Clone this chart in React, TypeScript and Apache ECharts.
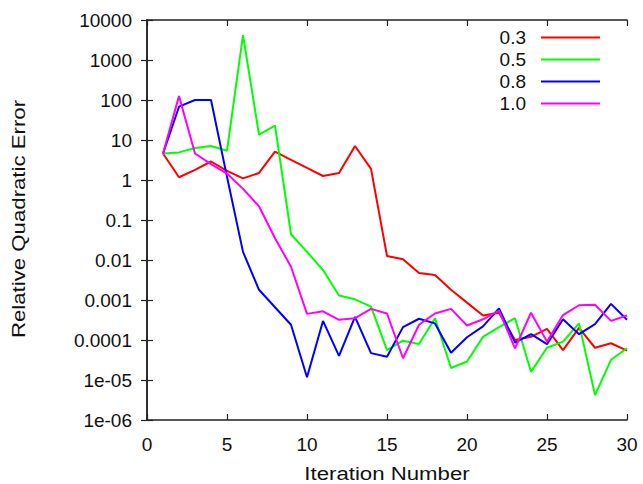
import React, { useEffect, useRef } from "react";
import * as echarts from "echarts";

const iterations = Array.from({ length: 30 }, (_, i) => i + 1);
const seriesNames = ["0.3", "0.5", "0.8", "1.0"];
const seriesColors = ["#ff0000", "#00ff00", "#0000ff", "#ff00ff"];

const err03 = [4.6, 1.17, 1.8, 2.9, 1.7, 1.1, 1.5, 5.1, 3.2, 2.0, 1.26, 1.5, 7.1, 1.9, 0.0126, 0.0104, 0.0047, 0.0042, 0.0018, 0.00086, 0.00041, 0.00048, 0.0001, 0.00012, 0.00019, 5.6e-5, 0.0002, 6.4e-5, 8.3e-5, 5.4e-5];
const err05 = [4.6, 4.9, 6.3, 7.1, 5.4, 4200, 13.6, 22.8, 0.044, 0.016, 0.0056, 0.0013, 0.00104, 0.00068, 5.6e-5, 9.6e-5, 7.9e-5, 0.00035, 2e-5, 2.9e-5, 0.00012, 0.00021, 0.00035, 1.6e-5, 6.4e-5, 9.1e-5, 0.00026, 4.2e-6, 3.2e-5, 6.2e-5];
const err08 = [4.6, 68, 100, 100, 1.2, 0.016, 0.0018, 0.00066, 0.00024, 1.17e-5, 0.0003, 4e-5, 0.00038, 4.7e-5, 3.8e-5, 0.00021, 0.00034, 0.00026, 4.8e-5, 0.000117, 0.00022, 0.00062, 8.6e-5, 0.00014, 7.9e-5, 0.00033, 0.00014, 0.00025, 0.0008, 0.00032];
const err10 = [4.6, 125, 4.6, 2.5, 1.45, 0.6, 0.22, 0.035, 0.0068, 0.00045, 0.00052, 0.00032, 0.00035, 0.0006, 0.00046, 3.5e-5, 0.00024, 0.00046, 0.0006, 0.00023, 0.00033, 0.00054, 6.2e-5, 0.00048, 9.1e-5, 0.00042, 0.00074, 0.00076, 0.0003, 0.00041];

const allSeries = [err03, err05, err08, err10];

const xLabel = "Iteration Number";
const yLabel = "Relative Quadratic Error";

const FONT = "'Liberation Sans', Arial, Helvetica, sans-serif";
const TEXT = "#111";
const FS = 19;

function logLabel(v: number): string {
  const e = Math.round(Math.log10(v));
  if (e >= 0) return String(Math.pow(10, e));
  if (e >= -4) return "0." + "0".repeat(-e - 1) + "1";
  return "1e-" + String(-e).padStart(2, "0");
}

export default function App() {
  const ref = useRef<HTMLDivElement>(null);
  useEffect(() => {
    if (!ref.current) return;
    const chart = echarts.init(ref.current, null, { renderer: "svg" });
    const axisLine = { show: true, lineStyle: { color: "#222", width: 1.5 } };
    const tick = { show: true, inside: true, length: 6, lineStyle: { color: "#222", width: 1.2 } };
    chart.setOption({
      animation: false,
      backgroundColor: "#fff",
      textStyle: { fontFamily: FONT },
      grid: { left: 147, right: 16, top: 20, bottom: 64, show: false },
      legend: {
        orient: "vertical",
        right: 38,
        top: 23,
        align: "right",
        itemWidth: 59,
        itemHeight: 2,
        itemGap: 3,
        icon: "rect",
        textStyle: { fontSize: FS, color: TEXT, fontFamily: FONT, padding: [0, 10, 0, 0] },
        data: seriesNames,
      },
      xAxis: [
        {
          type: "value",
          min: 0,
          max: 30,
          interval: 5,
          axisLine,
          axisTick: tick,
          axisLabel: { fontSize: FS, color: TEXT, margin: 15, fontFamily: FONT },
          splitLine: { show: false },
        },
        {
          type: "value",
          position: "top",
          min: 0,
          max: 30,
          interval: 5,
          axisLine,
          axisTick: tick,
          axisLabel: { show: false },
          splitLine: { show: false },
        },
      ],
      yAxis: [
        {
          type: "log",
          logBase: 10,
          min: 1e-6,
          max: 1e4,
          interval: 1,
          axisLine,
          axisTick: tick,
          minorTick: { show: false },
          axisLabel: { fontSize: FS, color: TEXT, margin: 15, fontFamily: FONT, formatter: (v: number) => logLabel(v) },
          splitLine: { show: false },
        },
        {
          type: "log",
          logBase: 10,
          position: "right",
          min: 1e-6,
          max: 1e4,
          interval: 1,
          axisLine,
          axisTick: tick,
          axisLabel: { show: false },
          splitLine: { show: false },
        },
      ],
      graphic: [
        {
          type: "text",
          x: 18,
          y: 219,
          rotation: Math.PI / 2,
          scaleX: 1.17,
          style: {
            text: yLabel,
            fontSize: FS,
            fill: TEXT,
            fontFamily: FONT,
            align: "center",
            verticalAlign: "middle",
          },
        },
        {
          type: "text",
          x: 387,
          y: 473,
          scaleX: 1.17,
          style: {
            text: xLabel,
            fontSize: FS,
            fill: TEXT,
            fontFamily: FONT,
            align: "center",
            verticalAlign: "middle",
          },
        },
      ],
      series: allSeries.map((vals, si) => ({
        name: seriesNames[si],
        type: "line",
        showSymbol: false,
        symbol: "none",
        color: seriesColors[si],
        lineStyle: { width: 2, color: seriesColors[si] },
        itemStyle: { color: seriesColors[si] },
        data: vals.map((v, i) => [iterations[i], v]),
      })),
    });
    return () => chart.dispose();
  }, []);
  return <div ref={ref} style={{ position: "fixed", left: 0, top: 0, width: 643, height: 484 }} />;
}
